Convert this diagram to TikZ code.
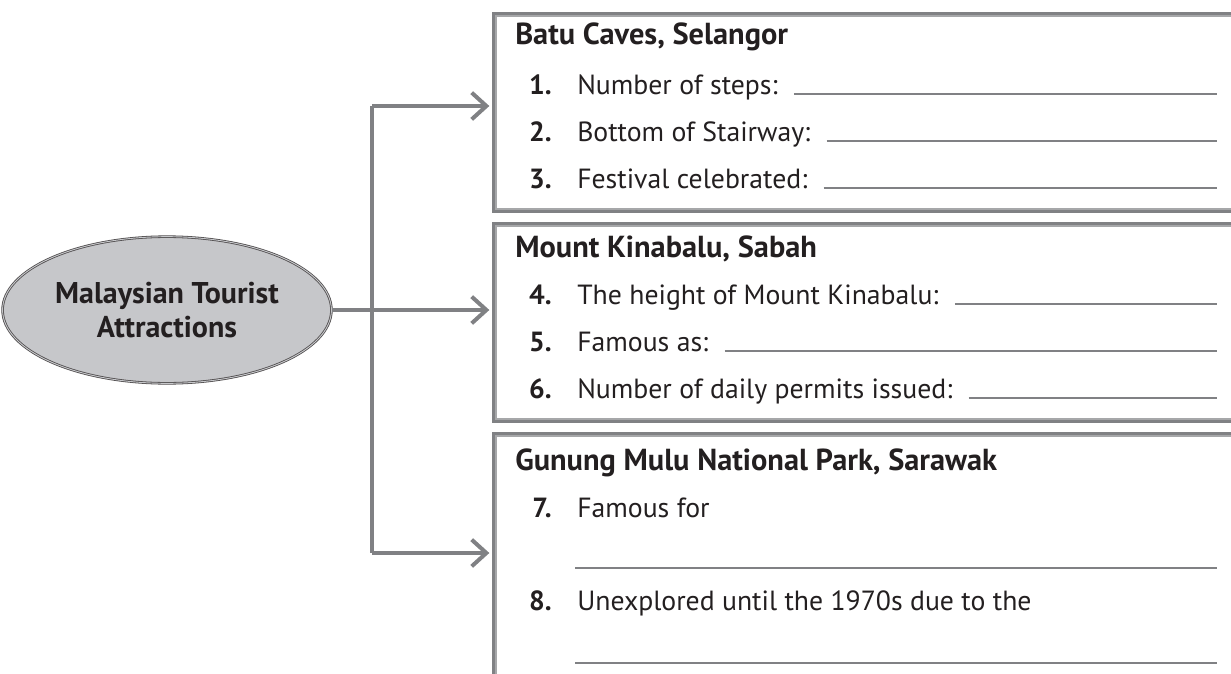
\documentclass[tikz,border=0pt]{standalone}
\usepackage{fontspec}
\setmainfont{PT Sans}
\usetikzlibrary{arrows.meta,shapes.geometric}

\definecolor{ink}{HTML}{231F20}
\definecolor{linkgray}{HTML}{808184}
\definecolor{hubfill}{HTML}{C6C7CA}

\tikzset{
  panel/.style={draw=linkgray, line width=2.2pt, anchor=north west, minimum width=565pt, inner sep=0pt},
  panelin/.style={draw=linkgray!70, line width=0.9pt},
  link/.style={draw=linkgray, line width=3pt, line join=miter},
  barb/.style={arrows={-Straight Barb[length=11pt,width=20pt]}, shorten >=2pt},
  title/.style={anchor=base west, inner sep=0pt, text=ink, font=\fontsize{22.8}{26}\selectfont\bfseries},
  num/.style={anchor=base east, inner sep=0pt, text=ink, font=\fontsize{20.8}{24}\selectfont\bfseries},
  ans/.style={anchor=base west, inner sep=0pt, text=ink, font=\fontsize{20.8}{24}\selectfont},
  rule/.style={draw=linkgray, line width=0.9pt}
}

\begin{document}
\begin{tikzpicture}[x=0.75pt, y=-0.75pt]
  \useasboundingbox (0,0) rectangle (1231,674);

  % central oval
  \node[ellipse, draw=ink!80, double=hubfill, double distance=0.7pt, line width=0.6pt, fill=hubfill,
        minimum width=240pt, minimum height=110pt, align=center, text=ink,
        font=\fontsize{22.5}{25.5}\selectfont\bfseries] (hub) at (167,310) {Malaysian Tourist\\Attractions};

  % the three panels
  \node[panel, minimum height=148.5pt] (batu) at (492,12) {};
  \node[panel, minimum height=148.5pt] (kina) at (492,222) {};
  \node[panel, minimum height=205pt] (mulu) at (492,432) {};
  \foreach \b in {batu, kina, mulu}
    \draw[panelin] ([shift={(4,4)}]\b.north west) rectangle ([shift={(-4,-4)}]\b.south east);

  % connectors
  \coordinate (top) at (372,106);
  \coordinate (bot) at (372,553);
  \draw[link] (top) -- (bot);
  \draw[link, barb] (top) -- (top -| batu.west);
  \draw[link, barb] (bot) -- (bot -| mulu.west);
  \draw[link, barb] (hub.east) -- (hub -| kina.west);

  \coordinate (rend) at (1217,0);

  % Batu Caves
  \node[title] (t1) at (515,45) {Batu Caves, Selangor};
  \node[num] (n1) at (552,94) {1.};
  \node[ans] (a1) at (577,94) {Number of steps:};
  \node[num] (n2) at (552,141) {2.};
  \node[ans] (a2) at (577,141) {Bottom of Stairway:};
  \node[num] (n3) at (552,188) {3.};
  \node[ans] (a3) at (577,188) {Festival celebrated:};

  % Mount Kinabalu
  \node[title] (t2) at (515,257) {Mount Kinabalu, Sabah};
  \node[num] (n4) at (552,304) {4.};
  \node[ans] (a4) at (577,304) {The height of Mount Kinabalu:};
  \node[num] (n5) at (552,351) {5.};
  \node[ans] (a5) at (577,351) {Famous as:};
  \node[num] (n6) at (552,398) {6.};
  \node[ans] (a6) at (577,398) {Number of daily permits issued:};

  \foreach \a in {a1,a2,a3,a4,a5,a6}
    \draw[rule] ([xshift=12pt]\a.base east) -- (\a.base east -| rend);

  % Gunung Mulu
  \node[title] (t3) at (515,470) {Gunung Mulu National Park, Sarawak};
  \node[num] (n7) at (552,517) {7.};
  \node[ans] (a7) at (577,517) {Famous for};
  \node[num] (n8) at (552,610) {8.};
  \node[ans] (a8) at (577,610) {Unexplored until the 1970s due to the};
  \coordinate (l7) at (575,568);
  \coordinate (l8) at (575,663);
  \draw[rule] (l7) -- (l7 -| rend);
  \draw[rule] (l8) -- (l8 -| rend);
\end{tikzpicture}
\end{document}
